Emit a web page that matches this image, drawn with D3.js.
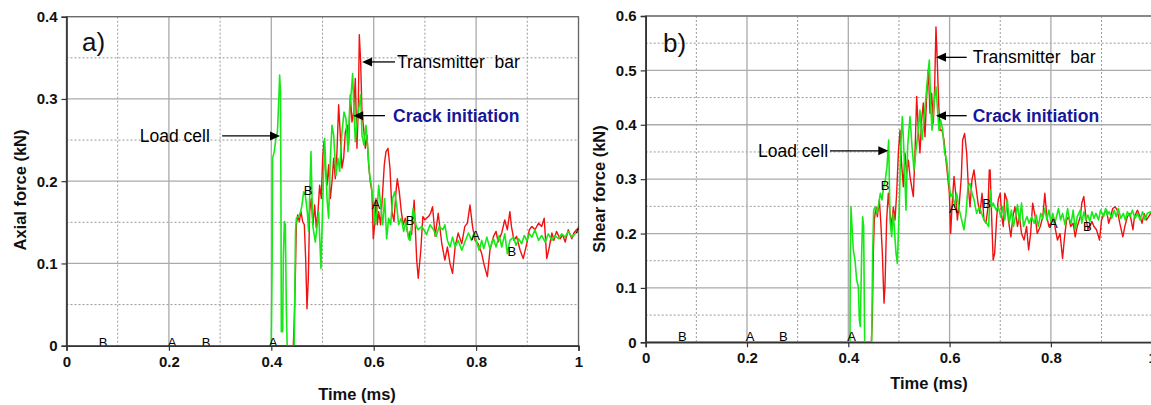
<!DOCTYPE html>
<html><head><meta charset="utf-8">
<script src="https://cdn.jsdelivr.net/npm/d3@7"></script>
<style>
body{margin:0;background:#fff}
svg{display:block}
text{font-family:"Liberation Sans",Arial,sans-serif}
</style>
</head><body><svg id="c" width="1151" height="405"></svg>
<script>
// ---------- DATA ----------
const xTicks = [0, 0.2, 0.4, 0.6, 0.8, 1];
const xMinorTicks = [0.1, 0.3, 0.5, 0.7, 0.9];
const yTicksAxial = [0, 0.1, 0.2, 0.3, 0.4];
const yMinorAxial = [0.05, 0.15, 0.25, 0.35];
const yTicksShear = [0, 0.1, 0.2, 0.3, 0.4, 0.5, 0.6];
const yMinorShear = [0.05, 0.15, 0.25, 0.35, 0.45, 0.55];

// a) axial force, load cell (time ms, kN)
const loadCellAxial = [
[0,0],[0.400,0],[0.4016,0.10],[0.4025,0.228],[0.4058,0.236],[0.409,0.252],[0.412,0.26],[0.4145,0.297],[0.4163,0.329],[0.418,0.309],[0.4188,0.187],[0.4196,0.017],[0.4222,0.017],[0.4235,0.106],[0.4255,0.151],[0.4274,0.147],[0.4294,0.045],[0.431,0],[0.4447,0],[0.446,0.066],[0.4473,0.139],[0.449,0.155],
[0.4534,0.157],[0.4573,0.163],[0.4599,0.171],[0.4632,0.187],[0.4664,0.183],[0.4703,0.163],[0.4729,0.139],[0.4775,0.236],[0.4808,0.147],[0.4860,0.126],[0.4925,0.163],[0.4970,0.094],[0.5003,0.171],[0.5042,0.252],[0.5088,0.179],[0.5120,0.155],[0.5153,0.228],[0.5185,0.268],[0.5218,0.256],[0.5263,0.207],[0.5302,0.228],[0.5335,0.212],[0.5380,0.260],[0.5420,0.284],[0.5459,0.276],[0.5498,0.236],[0.5530,0.289],[0.5563,0.309],[0.5589,0.331],[0.5615,0.284],[0.5641,0.248],[0.5680,0.276],[0.5719,0.293],[0.5745,0.305],[0.5771,0.256],[0.5810,0.244],[0.5849,0.268],[0.5888,0.236],[0.5921,0.207],[0.5953,0.195],[0.5999,0.171],[0.6031,0.147],[0.6064,0.163],[0.6097,0.195],[0.6136,0.171],[0.6175,0.147],[0.6214,0.179],[0.6253,0.130],[0.6292,0.155],[0.6331,0.147],[0.6370,0.179],[0.6409,0.187],[0.6448,0.171],[0.6487,0.147],[0.6539,0.155],[0.6585,0.139],[0.6630,0.151],[0.6682,0.130],
[0.671,0.128],[0.677,0.167],[0.683,0.145],[0.687,0.141],[0.694,0.145],[0.698,0.141],[0.703,0.135],[0.710,0.147],[0.717,0.141],[0.722,0.133],[0.728,0.145],[0.735,0.141],[0.739,0.147],[0.744,0.128],[0.749,0.120],[0.754,0.132],[0.759,0.120],[0.765,0.128],[0.772,0.116],[0.778,0.126],[0.785,0.137],[0.791,0.128],[0.796,0.137],[0.801,0.126],[0.806,0.116],[0.811,0.128],[0.815,0.118],[0.821,0.132],[0.827,0.118],[0.834,0.130],[0.839,0.120],[0.845,0.134],[0.850,0.120],[0.856,0.136],[0.861,0.112],[0.866,0.128],[0.873,0.132],[0.878,0.122],[0.883,0.130],[0.889,0.124],[0.894,0.134],[0.899,0.128],[0.904,0.136],[0.909,0.132],[0.915,0.141],[0.922,0.128],[0.928,0.134],[0.935,0.126],[0.941,0.136],[0.948,0.128],[0.954,0.134],[0.961,0.130],[0.967,0.136],[0.974,0.132],[0.980,0.139],[0.987,0.132],[0.993,0.136],[1.0,0.139]
];

// a) axial force, transmitter bar
const transmitterAxial = [
[0,0],[0.4430,0],[0.4450,0.033],[0.4469,0.082],[0.4489,0.147],[0.4515,0.159],[0.4547,0.151],[0.4580,0.163],[0.4612,0.151],[0.4645,0.147],[0.4671,0.106],[0.4697,0.045],[0.4723,0.082],[0.4749,0.163],[0.4781,0.179],[0.4814,0.147],[0.4847,0.171],[0.4879,0.143],[0.4912,0.163],[0.4944,0.195],[0.4977,0.179],[0.5003,0.228],[0.5029,0.248],[0.5055,0.216],[0.5088,0.195],[0.5120,0.220],[0.5153,0.179],[0.5185,0.199],[0.5218,0.228],[0.5250,0.203],[0.5283,0.236],[0.5315,0.293],[0.5348,0.256],[0.5380,0.216],[0.5413,0.228],[0.5446,0.260],[0.5485,0.268],[0.5511,0.244],[0.5543,0.305],[0.5576,0.272],[0.5608,0.284],[0.5641,0.325],[0.5673,0.240],[0.5699,0.289],[0.5719,0.378],[0.5745,0.345],[0.5771,0.284],[0.5804,0.264],[0.5836,0.240],[0.5869,0.256],[0.5901,0.220],[0.5934,0.199],[0.5966,0.187],[0.5992,0.130],[0.6018,0.147],[0.6044,0.179],[0.6071,0.147],[0.6097,0.163],[0.6136,0.147],[0.6175,0.187],[0.6207,0.220],[0.6240,0.236],[0.6279,0.240],[0.6318,0.216],[0.6357,0.163],[0.6396,0.151],[0.6435,0.187],[0.6461,0.203],[0.6500,0.187],[0.6539,0.163],[0.6578,0.147],[0.6617,0.155],[0.6656,0.139],[0.6696,0.130],
[0.671,0.139],[0.674,0.135],[0.679,0.177],[0.684,0.104],[0.687,0.082],[0.692,0.116],[0.696,0.157],[0.700,0.153],[0.707,0.157],[0.711,0.161],[0.715,0.169],[0.720,0.133],[0.726,0.161],[0.733,0.124],[0.739,0.104],[0.744,0.120],[0.749,0.100],[0.754,0.088],[0.759,0.120],[0.765,0.137],[0.772,0.124],[0.778,0.145],[0.783,0.149],[0.788,0.171],[0.793,0.145],[0.798,0.128],[0.804,0.124],[0.811,0.112],[0.815,0.100],[0.822,0.084],[0.827,0.116],[0.834,0.133],[0.839,0.139],[0.843,0.126],[0.850,0.137],[0.856,0.153],[0.861,0.141],[0.866,0.163],[0.869,0.145],[0.874,0.128],[0.879,0.133],[0.886,0.116],[0.892,0.106],[0.899,0.124],[0.904,0.141],[0.909,0.145],[0.915,0.141],[0.922,0.149],[0.928,0.145],[0.933,0.155],[0.938,0.106],[0.943,0.120],[0.948,0.137],[0.952,0.128],[0.957,0.139],[0.964,0.130],[0.969,0.135],[0.974,0.126],[0.980,0.141],[0.987,0.130],[0.991,0.137],[0.996,0.141],[1.0,0.143]
];

// b) shear force, load cell
const loadCellShear = [
[0,0],[0.400,0],[0.4033,0.001],[0.4040,0.164],[0.4053,0.249],[0.4073,0.213],[0.4099,0.170],[0.4132,0.151],[0.4165,0.115],[0.4198,0.102],[0.4218,0.041],[0.4237,0.029],[0.4264,0.164],[0.4283,0.231],[0.4303,0.213],[0.4323,0],[0.4461,0],[0.4481,0.164],[0.4501,0.243],[0.4534,0.249],[0.4567,0.237],[0.4599,0.253],[0.4632,0.274],[0.4665,0.262],[0.4698,0.286],[0.4731,0.299],[0.4764,0.323],[0.4797,0.372],[0.4823,0.225],[0.4856,0.194],[0.4889,0.237],[0.4942,0.164],[0.4968,0.145],[0.5007,0.249],[0.5034,0.360],[0.5067,0.415],[0.5106,0.335],[0.5139,0.243],[0.5172,0.360],[0.5218,0.415],[0.5258,0.360],[0.5297,0.317],[0.5337,0.354],[0.5376,0.384],[0.5415,0.427],[0.5455,0.372],[0.5494,0.409],[0.5534,0.452],[0.5573,0.495],[0.5600,0.519],[0.5626,0.440],[0.5652,0.390],[0.5692,0.440],[0.5731,0.470],[0.5758,0.433],[0.5790,0.390],[0.5823,0.409],[0.5863,0.390],[0.5903,0.348],[0.5942,0.335],[0.5981,0.299],[0.6021,0.268],[0.6060,0.274],[0.6100,0.249],[0.6139,0.274],[0.6192,0.243],[0.6238,0.225],[0.6284,0.207],[0.6324,0.237],[0.6363,0.286],[0.6403,0.292],[0.6442,0.274],[0.6482,0.262],[0.6534,0.237],[0.6587,0.249],[0.6633,0.237],[0.6679,0.225],[0.6732,0.219],[0.6771,0.213],
[0.680,0.280],[0.683,0.249],[0.686,0.256],[0.692,0.243],[0.696,0.249],[0.701,0.231],[0.705,0.249],[0.709,0.225],[0.714,0.262],[0.718,0.219],[0.722,0.243],[0.726,0.213],[0.730,0.231],[0.734,0.253],[0.738,0.222],[0.742,0.256],[0.746,0.213],[0.750,0.225],[0.753,0.231],[0.757,0.219],[0.762,0.231],[0.767,0.219],[0.771,0.234],[0.775,0.213],[0.780,0.237],[0.784,0.228],[0.788,0.246],[0.792,0.225],[0.796,0.243],[0.800,0.222],[0.804,0.237],[0.807,0.216],[0.811,0.231],[0.815,0.246],[0.819,0.225],[0.823,0.237],[0.828,0.216],[0.833,0.246],[0.836,0.228],[0.840,0.219],[0.844,0.243],[0.848,0.207],[0.852,0.231],[0.858,0.243],[0.861,0.219],[0.865,0.240],[0.869,0.225],[0.873,0.234],[0.877,0.222],[0.881,0.240],[0.885,0.228],[0.889,0.237],[0.894,0.225],[0.898,0.243],[0.904,0.231],[0.908,0.246],[0.911,0.234],[0.915,0.240],[0.920,0.228],[0.925,0.243],[0.929,0.231],[0.933,0.246],[0.938,0.228],[0.943,0.237],[0.947,0.225],[0.951,0.240],[0.956,0.231],[0.961,0.243],[0.966,0.228],[0.971,0.237],[0.976,0.225],[0.981,0.240],[0.986,0.225],[0.990,0.237],[0.997,0.240],[1.0,0.236]
];

// b) shear force, transmitter bar
const transmitterShear = [
[0,0],[0.4455,0],[0.4474,0.041],[0.4494,0.164],[0.4514,0.225],[0.4547,0.249],[0.4573,0.231],[0.4613,0.262],[0.4639,0.225],[0.4672,0.164],[0.4705,0.072],[0.4724,0.102],[0.4757,0.225],[0.4790,0.274],[0.4823,0.237],[0.4856,0.213],[0.4889,0.249],[0.4922,0.225],[0.4955,0.274],[0.4988,0.348],[0.5021,0.390],[0.5047,0.335],[0.5086,0.286],[0.5119,0.348],[0.5152,0.311],[0.5185,0.335],[0.5218,0.305],[0.5251,0.286],[0.5284,0.268],[0.5317,0.348],[0.5350,0.452],[0.5383,0.390],[0.5415,0.348],[0.5448,0.409],[0.5481,0.440],[0.5514,0.378],[0.5547,0.452],[0.5580,0.501],[0.5613,0.421],[0.5646,0.458],[0.5679,0.403],[0.5705,0.470],[0.5731,0.580],[0.5758,0.513],[0.5784,0.440],[0.5810,0.390],[0.5850,0.390],[0.5889,0.372],[0.5929,0.335],[0.5968,0.299],[0.5995,0.274],[0.6021,0.200],[0.6047,0.249],[0.6087,0.305],[0.6120,0.274],[0.6153,0.225],[0.6192,0.256],[0.6232,0.305],[0.6258,0.372],[0.6297,0.384],[0.6337,0.348],[0.6370,0.286],[0.6403,0.249],[0.6442,0.299],[0.6482,0.317],[0.6521,0.286],[0.6561,0.256],[0.6600,0.237],[0.6640,0.274],[0.6679,0.225],[0.6718,0.219],[0.6758,0.249],[0.6784,0.317],
[0.680,0.317],[0.683,0.231],[0.686,0.151],[0.689,0.164],[0.693,0.231],[0.696,0.262],[0.700,0.274],[0.703,0.231],[0.706,0.213],[0.709,0.274],[0.713,0.262],[0.716,0.225],[0.721,0.194],[0.725,0.231],[0.729,0.249],[0.734,0.213],[0.738,0.231],[0.742,0.200],[0.747,0.188],[0.752,0.213],[0.756,0.170],[0.760,0.200],[0.764,0.256],[0.769,0.231],[0.773,0.200],[0.779,0.213],[0.784,0.231],[0.788,0.274],[0.792,0.231],[0.796,0.213],[0.800,0.219],[0.805,0.231],[0.809,0.207],[0.813,0.188],[0.818,0.200],[0.823,0.154],[0.827,0.194],[0.831,0.225],[0.835,0.231],[0.839,0.213],[0.844,0.219],[0.848,0.194],[0.852,0.213],[0.858,0.231],[0.861,0.256],[0.865,0.268],[0.869,0.231],[0.873,0.207],[0.877,0.213],[0.881,0.222],[0.885,0.213],[0.890,0.207],[0.896,0.188],[0.900,0.225],[0.905,0.237],[0.910,0.243],[0.914,0.219],[0.918,0.231],[0.922,0.246],[0.927,0.249],[0.931,0.243],[0.936,0.219],[0.942,0.194],[0.946,0.213],[0.951,0.231],[0.956,0.237],[0.962,0.207],[0.965,0.231],[0.971,0.243],[0.976,0.231],[0.980,0.219],[0.984,0.237],[0.989,0.225],[0.993,0.231],[0.997,0.237],[1.0,0.234]
];

// A / B point labels [letter, time, force]
const pointLabelsAxial = [["B",0.0713,0.0045],["A",0.206,0.0045],["B",0.2725,0.0045],["A",0.4033,0.0045],["B",0.4717,0.189],["A",0.6045,0.172],["B",0.6709,0.152],["A",0.799,0.134],["B",0.87,0.115],["A",1.003,0.143]];
const pointLabelsShear = [["B",0.0723,0.0103],["A",0.206,0.0103],["B",0.2717,0.0103],["A",0.4067,0.0103],["B",0.4725,0.289],["A",0.6073,0.246],["B",0.6732,0.256],["A",0.8047,0.219],["B",0.8718,0.213]];

// ---------- DRAW ----------
const svg = d3.select("#c");
const RED = "#f21010", GREEN = "#16ea16";

function panel(o){
  const x = d3.scaleLinear().domain([0,1]).range([o.x0,o.x1]);
  const y = d3.scaleLinear().domain([0,o.ymax]).range([o.yb,o.yt]);
  const g = svg.append("g");
  const id = "clip"+o.tag;
  svg.append("clipPath").attr("id",id).append("rect")
    .attr("x",o.x0).attr("y",o.yt).attr("width",o.x1-o.x0).attr("height",o.yb-o.yt);

  // minor dashed grid
  g.selectAll(".mx").data(xMinorTicks).join("line")
    .attr("x1",d=>x(d)).attr("x2",d=>x(d)).attr("y1",o.yt).attr("y2",o.yb)
    .attr("stroke","#9a9a9a").attr("stroke-width",1).attr("stroke-dasharray","2,2");
  g.selectAll(".my").data(o.yMinor).join("line")
    .attr("y1",d=>y(d)).attr("y2",d=>y(d)).attr("x1",o.x0).attr("x2",o.x1)
    .attr("stroke","#9a9a9a").attr("stroke-width",1).attr("stroke-dasharray","2,2");
  // major solid grid
  g.selectAll(".Mx").data(xTicks).join("line")
    .attr("x1",d=>x(d)).attr("x2",d=>x(d)).attr("y1",o.yt).attr("y2",o.yb)
    .attr("stroke","#aaaaaa").attr("stroke-width",1.3);
  g.selectAll(".My").data(o.yTicks).join("line")
    .attr("y1",d=>y(d)).attr("y2",d=>y(d)).attr("x1",o.x0).attr("x2",o.x1)
    .attr("stroke","#aaaaaa").attr("stroke-width",1.3);
  // frame
  g.append("rect").attr("x",o.x0).attr("y",o.yt).attr("width",o.x1-o.x0).attr("height",o.yb-o.yt)
    .attr("fill","none").attr("stroke","#666").attr("stroke-width",1.2);

  // curves
  const line = d3.line().x(d=>x(d[0])).y(d=>y(d[1]));
  const cg = g.append("g").attr("clip-path",`url(#${id})`);
  cg.append("path").datum(o.red).attr("d",line).attr("fill","none")
    .attr("stroke",RED).attr("stroke-width",1.4).attr("stroke-linejoin","round");
  cg.append("path").datum(o.green).attr("d",line).attr("fill","none")
    .attr("stroke",GREEN).attr("stroke-width",1.6).attr("stroke-linejoin","round");

  // point labels
  cg.selectAll(".pl").data(o.labels).join("text")
    .attr("x",d=>x(d[1])).attr("y",d=>y(d[2])).attr("dy","0.36em")
    .attr("text-anchor","middle").attr("font-size",13).attr("fill","#000").text(d=>d[0]);

  // axes
  const fmt = d3.format("~g");
  const ya = g.append("g").attr("transform",`translate(${o.x0},0)`)
    .call(d3.axisLeft(y).tickValues(o.yTicks).tickSize(5).tickPadding(4).tickFormat(fmt));
  const xa = g.append("g").attr("transform",`translate(0,${o.yb})`)
    .call(d3.axisBottom(x).tickValues(xTicks).tickSize(5).tickPadding(o.xpad).tickFormat(fmt));
  [ya,xa].forEach(a=>{
    a.select(".domain").attr("stroke","#333").attr("stroke-width",1.6);
    a.selectAll(".tick line").attr("stroke","#333").attr("stroke-width",1.2);
    a.selectAll("text").attr("font-family","Liberation Sans, Arial, sans-serif")
      .attr("font-size",15).attr("font-weight","bold").attr("fill","#111");
  });

  // axis titles
  g.append("text").attr("transform",`translate(${o.ytx},${o.yty}) rotate(-90)`)
    .attr("text-anchor","middle").attr("font-size",16.5).attr("font-weight","bold").attr("fill","#111").text(o.ytitle);
  g.append("text").attr("x",o.xtx).attr("y",o.xty)
    .attr("text-anchor","middle").attr("font-size",16.5).attr("font-weight","bold").attr("fill","#111").text("Time (ms)");

  // panel tag
  g.append("text").attr("x",o.tagx).attr("y",o.tagy).attr("font-size",26).attr("fill","#111").text(o.tag+")");

  // annotations
  o.notes.forEach(n=>{
    const tx=x(n.tip[0]), ty=y(n.tip[1]), sx=x(n.tail);
    const dir = sx < tx ? 1 : -1;
    g.append("line").attr("x1",sx).attr("y1",ty).attr("x2",tx-dir*8).attr("y2",ty)
      .attr("stroke","#000").attr("stroke-width",1.3);
    g.append("path").attr("d",`M${tx},${ty} L${tx-dir*10},${ty-4.5} L${tx-dir*10},${ty+4.5} Z`).attr("fill","#000");
    g.append("text").attr("x",x(n.textAt)).attr("y",ty).attr("dy","0.35em")
      .attr("text-anchor",n.anchor).attr("font-size",17.5)
      .attr("font-weight",n.bold?"bold":"normal").attr("fill",n.color)
      .style("white-space","pre").text(n.text);
  });
}

panel({tag:"a", x0:66.5, x1:578.5, yt:16.7, yb:345.7, ymax:0.4,
  yTicks:yTicksAxial, yMinor:yMinorAxial, red:transmitterAxial, green:loadCellAxial,
  labels:pointLabelsAxial, xpad:6, ytitle:"Axial force (kN)", ytx:26, yty:190, xtx:357, xty:400,
  tagx:82, tagy:51,
  notes:[
    {text:"Load cell", tip:[0.417,0.255], tail:0.304, textAt:0.280, anchor:"end", color:"#000"},
    {text:"Transmitter  bar", tip:[0.5773,0.3450], tail:0.6416, textAt:0.6455, anchor:"start", color:"#000"},
    {text:"Crack initiation", tip:[0.5601,0.2797], tail:0.6221, textAt:0.6377, anchor:"start", color:"#16169a", bold:true}
  ]});

panel({tag:"b", x0:645.7, x1:1152.2, yt:16, yb:342.3, ymax:0.6,
  yTicks:yTicksShear, yMinor:yMinorShear, red:transmitterShear, green:loadCellShear,
  labels:pointLabelsShear, xpad:5.5, ytitle:"Shear force (kN)", ytx:605, yty:189, xtx:929, xty:389,
  tagx:663, tagy:52,
  notes:[
    {text:"Load cell", tip:[0.479,0.352], tail:0.3639, textAt:0.360, anchor:"end", color:"#000"},
    {text:"Transmitter  bar", tip:[0.5731,0.524], tail:0.6338, textAt:0.6456, anchor:"start", color:"#000"},
    {text:"Crack initiation", tip:[0.5731,0.4167], tail:0.6338, textAt:0.6456, anchor:"start", color:"#16169a", bold:true}
  ]});
</script>
</body></html>
